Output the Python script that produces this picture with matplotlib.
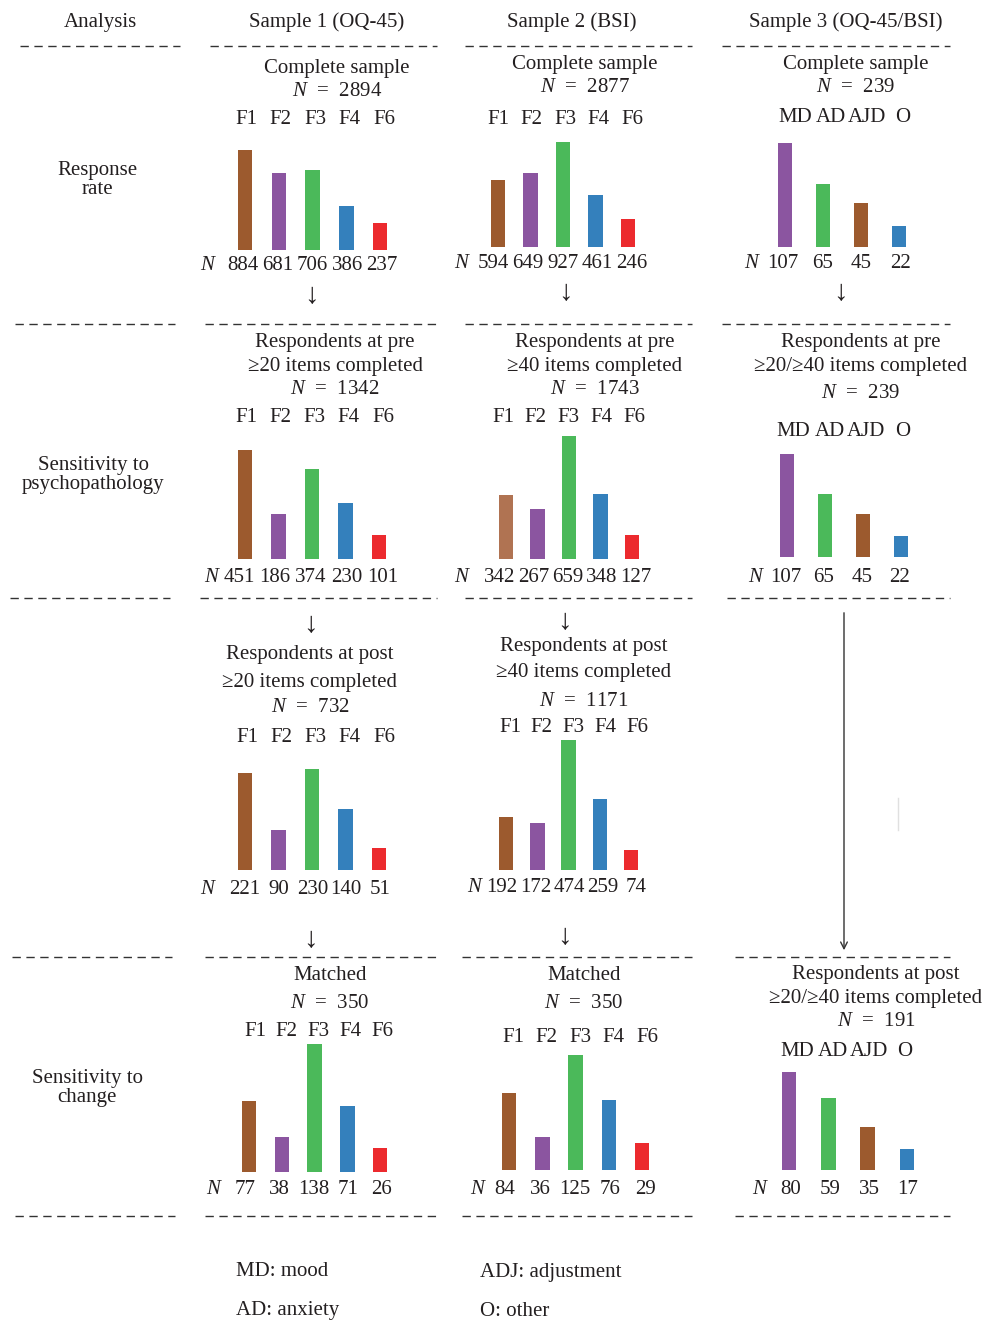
import matplotlib
matplotlib.use("Agg")
import matplotlib.pyplot as plt

plt.rcParams["font.family"] = ["Liberation Serif", "DejaVu Serif"]
plt.rcParams["mathtext.fontset"] = "custom"
plt.rcParams["mathtext.rm"] = "Liberation Serif"
plt.rcParams["mathtext.it"] = "Liberation Serif:italic"

W, H = 989, 1320
FS = 15
DY = 2  # text sits slightly low in the original

# ---- data ----
factor_labels = ["F1", "F2", "F3", "F4", "F6"]
diag_labels = ["MD", "AD", "AJD", "O"]

s1_response = [884, 681, 706, 386, 237]
s2_response = [594, 649, 927, 461, 246]
s3_response = [107, 65, 45, 22]
s1_pre = [451, 186, 374, 230, 101]
s2_pre = [342, 267, 659, 348, 127]
s3_pre = [107, 65, 45, 22]
s1_post = [221, 90, 230, 140, 51]
s2_post = [192, 172, 474, 259, 74]
s1_matched = [77, 38, 138, 71, 26]
s2_matched = [84, 36, 125, 76, 29]
s3_post = [80, 59, 35, 17]

headers = ["Analysis", "Sample 1 (OQ-45)", "Sample 2 (BSI)", "Sample 3 (OQ-45/BSI)"]
row_names = ["Response\nrate", "Sensitivity to\npsychopathology", "Sensitivity to\nchange"]
legend_items = ["MD: mood", "AD: anxiety", "ADJ: adjustment", "O: other"]

BROWN, PURPLE, GREEN, BLUE, RED = "#9c5a2e", "#8b55a0", "#4bb95a", "#3480bc", "#ec2a2e"
f_colors = [BROWN, PURPLE, GREEN, BLUE, RED]
d_colors = [PURPLE, GREEN, BROWN, BLUE]


def n_eq(n):
    return f"$N$  =  {n}"


# panel layout: bars (x0, dx, baseline, px height of tallest), label row, value row
panels = [
    dict(vals=s1_response, labs=factor_labels, cols=f_colors, cx=337,
         title=[("Complete sample", 66), (n_eq(2894), 89)],
         bars=(245, 33.75, 250, 100), lab=(246, 34.5, 117), val=(243, 34.75, 263, 209)),
    dict(vals=s2_response, labs=factor_labels, cols=f_colors, cx=585,
         title=[("Complete sample", 63), (n_eq(2877), 86)],
         bars=(498, 32.5, 247, 105), lab=(498, 33.5, 117), val=(493, 34.75, 261, 463)),
    dict(vals=s3_response, labs=diag_labels, cols=d_colors, cx=856,
         title=[("Complete sample", 62), (n_eq(239), 86)],
         bars=(785, 38, 247, 104), lab=(795, 36, 115), val=(783, 39.3, 261, 753)),
    dict(vals=s1_pre, labs=factor_labels, cols=f_colors, cx=335,
         title=[("Respondents at pre", 340), ("≥20 items completed", 364), (n_eq(1342), 387)],
         bars=(245, 33.5, 559, 109), lab=(246, 34.25, 415), val=(239, 36, 575, 213)),
    dict(vals=s2_pre, labs=factor_labels, cols=["#b07352", PURPLE, GREEN, BLUE, RED], cx=595,
         title=[("Respondents at pre", 340), ("≥40 items completed", 364), (n_eq(1743), 387)],
         bars=(506, 31.5, 559, 123), lab=(503, 32.75, 415), val=(500, 34, 575, 463)),
    dict(vals=s3_pre, labs=diag_labels, cols=d_colors, cx=861,
         title=[("Respondents at pre", 340), ("≥20/≥40 items completed", 365), (n_eq(239), 391)],
         bars=(787, 38, 557, 103), lab=(793, 36.7, 430), val=(786, 38, 575, 757)),
    dict(vals=s1_post, labs=factor_labels, cols=f_colors, cx=310,
         title=[("Respondents at post", 652), ("≥20 items completed", 681), (n_eq(732), 705)],
         bars=(245, 33.5, 870, 101), lab=(247, 34.25, 735), val=(245, 33.75, 888, 209)),
    dict(vals=s2_post, labs=factor_labels, cols=f_colors, cx=584,
         title=[("Respondents at post", 645), ("≥40 items completed", 671), (n_eq(1171), 700)],
         bars=(506, 31.25, 870, 130), lab=(510, 31.75, 725), val=(502, 33.5, 886, 476)),
    dict(vals=s1_matched, labs=factor_labels, cols=f_colors, cx=330,
         title=[("Matched", 973), (n_eq(350), 1001)],
         bars=(249, 32.75, 1172, 128), lab=(255, 31.75, 1030), val=(245, 34.25, 1188, 215)),
    dict(vals=s2_matched, labs=factor_labels, cols=f_colors, cx=584,
         title=[("Matched", 973), (n_eq(350), 1001)],
         bars=(509, 33.25, 1170, 115), lab=(513, 33.5, 1036), val=(505, 35, 1187, 479)),
    dict(vals=s3_post, labs=diag_labels, cols=d_colors, cx=876,
         title=[("Respondents at post", 973), ("≥20/≥40 items completed", 997), (n_eq(191), 1020)],
         bars=(789, 39.3, 1170, 98), lab=(797, 36, 1050), val=(791, 39, 1188, 761)),
]

fig = plt.figure(figsize=(W / 100, H / 100), dpi=100)
ov = fig.add_axes([0, 0, 1, 1])
ov.set_xlim(0, W)
ov.set_ylim(H, 0)
ov.axis("off")


def txt(x, y, s, **kw):
    kw.setdefault("ha", "center")
    kw.setdefault("fontsize", FS)
    ov.text(x, y + DY, s, va="center", color="#231f20", **kw)


# column headers and row names
for x, t in zip([100, 327, 572, 846], headers):
    txt(x, 20, t)
for (x, y), t in zip([(97, 178), (93, 473), (87, 1086)], row_names):
    txt(x, y, t, linespacing=0.95)

# dashed separators
seps = {
    46: [(20, 180), (210, 437), (465, 692), (722, 950)],
    324: [(15, 175), (205, 437), (465, 692), (722, 950)],
    598: [(10, 170), (200, 437), (465, 692), (727, 950)],
    957: [(12, 172), (205, 437), (462, 692), (735, 950)],
    1216: [(15, 175), (205, 437), (462, 692), (735, 950)],
}
for y, segs in seps.items():
    for a, b in segs:
        ov.plot([a, b], [y, y], color="#333333", lw=1, ls=(0, (6, 4)))

# small down arrows
for x, y in [(311, 296), (565, 293), (840, 293), (310, 625), (564, 622), (310, 940), (564, 937)]:
    ov.text(x, y, "↓", ha="center", va="center", fontsize=21, color="#231f20")
ov.annotate("", xy=(844, 953), xytext=(844, 610),
            arrowprops=dict(arrowstyle="->", color="#333333", lw=1, mutation_scale=12))
ov.plot([898, 898], [798, 830], color="#e0e0e0", lw=1)

for p in panels:
    x0, dx, base, hpx = p["bars"]
    n = len(p["vals"])
    ax = fig.add_axes([(x0 - 0.5 * dx) / W, (H - base) / H, n * dx / W, hpx / H])
    ax.bar(range(n), p["vals"], width=14.5 / dx, color=p["cols"])
    ax.set_xlim(-0.5, n - 0.5)
    ax.set_ylim(0, max(p["vals"]))
    ax.axis("off")

    for t, y in p["title"]:
        txt(p["cx"], y, t)
    lx, ldx, ly = p["lab"]
    for i, lab in enumerate(p["labs"]):
        txt(lx + i * ldx, ly, lab)
    vx, vdx, vy, nx = p["val"]
    txt(nx, vy, "$N$")
    for i, v in enumerate(p["vals"]):
        txt(vx + i * vdx, vy, str(v))

# legend text
for (x, y), t in zip([(236, 1270), (236, 1309), (480, 1270), (480, 1309)], legend_items):
    txt(x, y, t, ha="left")

fig.savefig("out.png", dpi=100)
